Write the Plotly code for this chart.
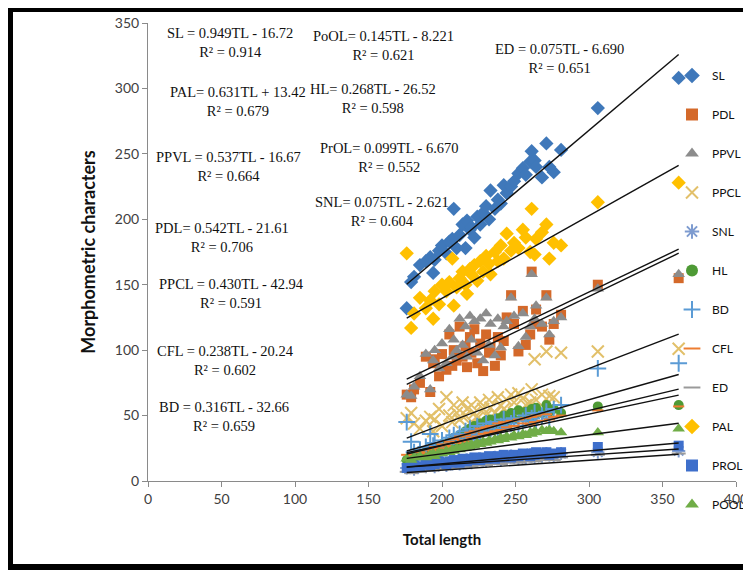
import plotly.graph_objects as go

# ---------------- data ----------------
TL = [176, 179, 181, 185, 189, 192, 194, 195, 198, 200, 203, 205, 207, 208, 210, 212, 214, 216, 217, 219,
      220, 222, 224, 226, 228, 230, 232, 233, 236, 238, 240, 242, 244, 247, 249, 252, 255, 257, 260, 261,
      263, 264, 268, 271, 273, 276, 281, 306, 361]

SL = [132, 152, 156, 165, 168, 171, 159, 169, 176, 180, 174, 183, 185, 208, 178, 188, 196, 178, 199, 192,
      194, 186, 202, 196, 205, 210, 200, 222, 208, 215, 212, 226, 220, 225, 229, 235, 239, 234, 244, 252,
      245, 240, 232, 258, 240, 236, 253, 285, 308]
PDL = [66, 64, 70, 75, 95, 68, 90, 93, 80, 97, 85, 112, 88, 100, 92, 118, 95, 103, 87, 110,
       98, 116, 90, 105, 84, 112, 98, 102, 88, 110, 96, 107, 125, 142, 120, 99, 130, 104, 112, 160,
       120, 131, 118, 142, 108, 120, 127, 150, 155]
PPVL = [66, 65, 72, 80, 97, 70, 92, 100, 86, 105, 90, 116, 95, 108, 100, 124, 104, 118, 95, 126,
        108, 122, 98, 124, 92, 128, 104, 120, 96, 124, 102, 118, 122, 140, 126, 103, 128, 110, 118, 158,
        124, 134, 120, 140, 112, 122, 125, 147, 158]
PPCL = [48, 52, 44, 40, 46, 49, 38, 47, 55, 42, 64, 50, 45, 58, 52, 47, 60, 50, 55, 44,
        58, 52, 48, 60, 55, 50, 62, 56, 52, 64, 58, 55, 62, 66, 60, 67, 63, 58, 60, 70,
        93, 62, 66, 99, 65, 64, 98, 99, 101]
SNL = [10, 11, 9, 12, 11, 13, 12, 11, 13, 14, 12, 14, 13, 15, 14, 13, 15, 14, 16, 15,
       14, 16, 15, 17, 16, 15, 17, 16, 18, 17, 16, 18, 17, 19, 18, 17, 19, 18, 20, 19,
       18, 20, 19, 21, 20, 19, 21, 22, 23]
HL = [16, 18, 14, 20, 22, 19, 24, 26, 22, 28, 25, 30, 27, 33, 29, 35, 31, 38, 33, 40,
      36, 42, 38, 44, 40, 46, 41, 47, 43, 48, 44, 50, 46, 52, 47, 54, 49, 53, 48, 55,
      50, 56, 52, 58, 53, 55, 52, 57, 58]
BD = [45, 30, 22, 24, 26, 36, 27, 29, 25, 31, 28, 33, 30, 35, 32, 36, 30, 38, 34, 40,
      32, 36, 42, 35, 38, 44, 37, 40, 45, 38, 42, 47, 40, 44, 48, 42, 46, 50, 44, 48,
      52, 46, 50, 53, 48, 55, 58, 86, 90]
CFL = [20, 17, 19, 22, 21, 24, 23, 26, 25, 28, 27, 30, 26, 32, 29, 34, 31, 35, 30, 37,
       33, 38, 34, 40, 36, 41, 37, 42, 38, 44, 39, 45, 41, 46, 42, 47, 44, 48, 43, 49,
       45, 50, 46, 51, 47, 49, 50, 54, 57]
ED = [7, 6, 8, 7, 8, 9, 8, 9, 10, 9, 10, 11, 10, 12, 11, 10, 12, 11, 13, 12,
      11, 13, 12, 14, 13, 12, 14, 13, 15, 14, 13, 15, 14, 16, 15, 14, 16, 15, 17, 16,
      15, 17, 16, 18, 17, 16, 18, 20, 21]
PAL = [174, 117, 128, 140, 132, 138, 124, 145, 135, 150, 145, 152, 170, 134, 148, 155, 160, 150, 143, 162,
       158, 165, 153, 168, 160, 172, 166, 158, 175, 168, 180, 170, 189, 176, 182, 178, 192, 186, 175, 208,
       173, 185, 190, 196, 170, 182, 180, 213, 228]
PROL = [10, 11, 12, 11, 13, 12, 14, 13, 15, 14, 13, 15, 14, 16, 15, 14, 17, 16, 15, 17,
        16, 18, 17, 16, 18, 17, 19, 18, 17, 19, 18, 20, 19, 18, 20, 19, 21, 20, 19, 21,
        20, 22, 21, 22, 20, 21, 22, 26, 27]
POOL = [17, 16, 18, 19, 18, 20, 21, 19, 22, 21, 23, 22, 24, 23, 25, 24, 26, 25, 27, 26,
        28, 27, 29, 28, 30, 29, 31, 30, 32, 31, 33, 32, 34, 33, 35, 34, 36, 35, 37, 36,
        38, 37, 39, 38, 39, 38, 37, 37, 40]

series_names = ["SL", "PDL", "PPVL", "PPCL", "SNL", "HL", "BD", "CFL", "ED", "PAL", "PROL", "POOL"]
series_values = [SL, PDL, PPVL, PPCL, SNL, HL, BD, CFL, ED, PAL, PROL, POOL]

# regression coefficients printed on the chart (trend lines)
trend_names = ["SL", "PDL", "PPVL", "PPCL", "SNL", "HL", "BD", "CFL", "ED", "PAL", "PrOL", "PoOL"]
trend_slope = [0.949, 0.542, 0.537, 0.430, 0.075, 0.268, 0.316, 0.238, 0.075, 0.631, 0.099, 0.145]
trend_icept = [-16.72, -21.61, -16.67, -42.94, -2.621, -26.52, -32.66, -20.24, -6.690, 13.42, -6.670, -8.221]

# equation labels: (line 1, line 2, x, y in data units)
eq_labels = [
    ("SL = 0.949TL - 16.72", "R² = 0.914", 56, 335),
    ("PAL= 0.631TL + 13.42", "R² = 0.679", 61, 290),
    ("PPVL = 0.537TL - 16.67", "R² = 0.664", 55, 240),
    ("PDL= 0.542TL - 21.61", "R² = 0.706", 50, 186),
    ("PPCL = 0.430TL - 42.94", "R² = 0.591", 57, 143),
    ("CFL = 0.238TL - 20.24", "R² = 0.602", 53, 92),
    ("BD = 0.316TL - 32.66", "R² = 0.659", 52, 49),
    ("PoOL= 0.145TL - 8.221", "R² = 0.621", 160, 333),
    ("HL= 0.268TL - 26.52", "R² = 0.598", 153, 292),
    ("PrOL= 0.099TL - 6.670", "R² = 0.552", 164, 247),
    ("SNL= 0.075TL - 2.621", "R² = 0.604", 159, 206),
    ("ED = 0.075TL - 6.690", "R² = 0.651", 280, 323),
]

# ---------------- styles ----------------
styles = {
    "SL":   dict(symbol="diamond", color="#3F78BA", size=11),
    "PDL":  dict(symbol="square", color="#D4692A", size=10),
    "PPVL": dict(symbol="triangle-up", color="#8C8C8C", size=11),
    "PPCL": dict(symbol="x-thin", color="#E2C06A", size=12),
    "SNL":  dict(symbol="asterisk", color="#7E9CD0", size=11),
    "HL":   dict(symbol="circle", color="#4E9A35", size=10),
    "BD":   dict(symbol="cross-thin", color="#5B9BD5", size=12),
    "CFL":  dict(symbol="line-ew", color="#ED7D31", size=8),
    "ED":   dict(symbol="line-ew", color="#9A9A9A", size=10),
    "PAL":  dict(symbol="diamond", color="#FFC000", size=11),
    "PROL": dict(symbol="square", color="#3E6FCB", size=10),
    "POOL": dict(symbol="triangle-up", color="#70AD47", size=11),
}

fig = go.Figure()

for name, vals in zip(series_names, series_values):
    st = styles[name]
    thin = st["symbol"] in ("x-thin", "cross-thin", "asterisk", "line-ew")
    marker = dict(symbol=st["symbol"], size=st["size"], color=st["color"])
    if thin:
        marker["line"] = dict(color=st["color"], width=2)
    fig.add_trace(go.Scatter(
        x=TL, y=vals, mode="markers", name=name, marker=marker,
        legendgroup=name, showlegend=True,
    ))

tl_min, tl_max = min(TL), max(TL)
for nm, a, b in zip(trend_names, trend_slope, trend_icept):
    fig.add_trace(go.Scatter(
        x=[tl_min, tl_max], y=[a * tl_min + b, a * tl_max + b],
        mode="lines", line=dict(color="#111111", width=1.4),
        showlegend=False, hoverinfo="skip",
    ))

for l1, l2, x, y in eq_labels:
    fig.add_annotation(
        x=x, y=y, xref="x", yref="y", text=l1 + "<br>" + l2, showarrow=False,
        align="center", font=dict(family="Liberation Serif, Times New Roman, serif", size=14.5, color="#111111"),
    )

# page has an 8px body margin, so the figure is 8px smaller and all targets shifted by 8
OFF = 8
W, H = 751 - OFF, 573 - OFF
L, R, T, B = 148 - OFF, W - (736 - OFF), 23 - OFF, H - (481 - OFF)
pw = W - L - R
ph = H - T - B

def px_to_paper_x(px):
    return (px - L) / pw

def px_to_paper_y(py):
    return (H - B - py) / ph

# thick outer frame of the figure (figure pixel coordinates)
fig.add_shape(
    type="rect", xref="paper", yref="paper",
    x0=px_to_paper_x(2), x1=px_to_paper_x(740), y0=px_to_paper_y(559), y1=px_to_paper_y(1),
    line=dict(color="black", width=6), fillcolor="rgba(0,0,0,0)", layer="above",
)

axis_font = dict(family="Lato, Open Sans, sans-serif", size=14, color="#404040")

fig.update_layout(
    width=W, height=H,
    margin=dict(l=L, r=R, t=T, b=B, autoexpand=False),
    paper_bgcolor="white", plot_bgcolor="white",
    showlegend=True,
    legend=dict(
        x=px_to_paper_x(664), y=px_to_paper_y(53), xanchor="left", yanchor="top",
        bgcolor="rgba(0,0,0,0)", borderwidth=0,
        font=dict(family="Lato, Open Sans, sans-serif", size=12, color="#111111"),
        traceorder="grouped", tracegroupgap=20, itemsizing="constant",
    ),
    xaxis=dict(
        range=[0, 400], tickvals=[0, 50, 100, 150, 200, 250, 300, 350, 400],
        showgrid=False, zeroline=False, showline=True, linecolor="#8A8A8A", linewidth=1,
        ticks="outside", ticklen=5, tickcolor="#8A8A8A", tickfont=axis_font,
        title=dict(text="<b>Total length</b>", font=dict(family="Lato, Open Sans, sans-serif", size=15, color="#111111"), standoff=28),
    ),
    yaxis=dict(
        range=[0, 350], tickvals=[0, 50, 100, 150, 200, 250, 300, 350],
        showgrid=False, zeroline=False, showline=True, linecolor="#8A8A8A", linewidth=1,
        ticks="outside", ticklen=5, tickcolor="#8A8A8A", tickfont=axis_font,
        title=dict(text="<b>Morphometric characters</b>", font=dict(family="Lato, Open Sans, sans-serif", size=18, color="#111111"), standoff=14),
    ),
)

fig.write_html("out.html")
